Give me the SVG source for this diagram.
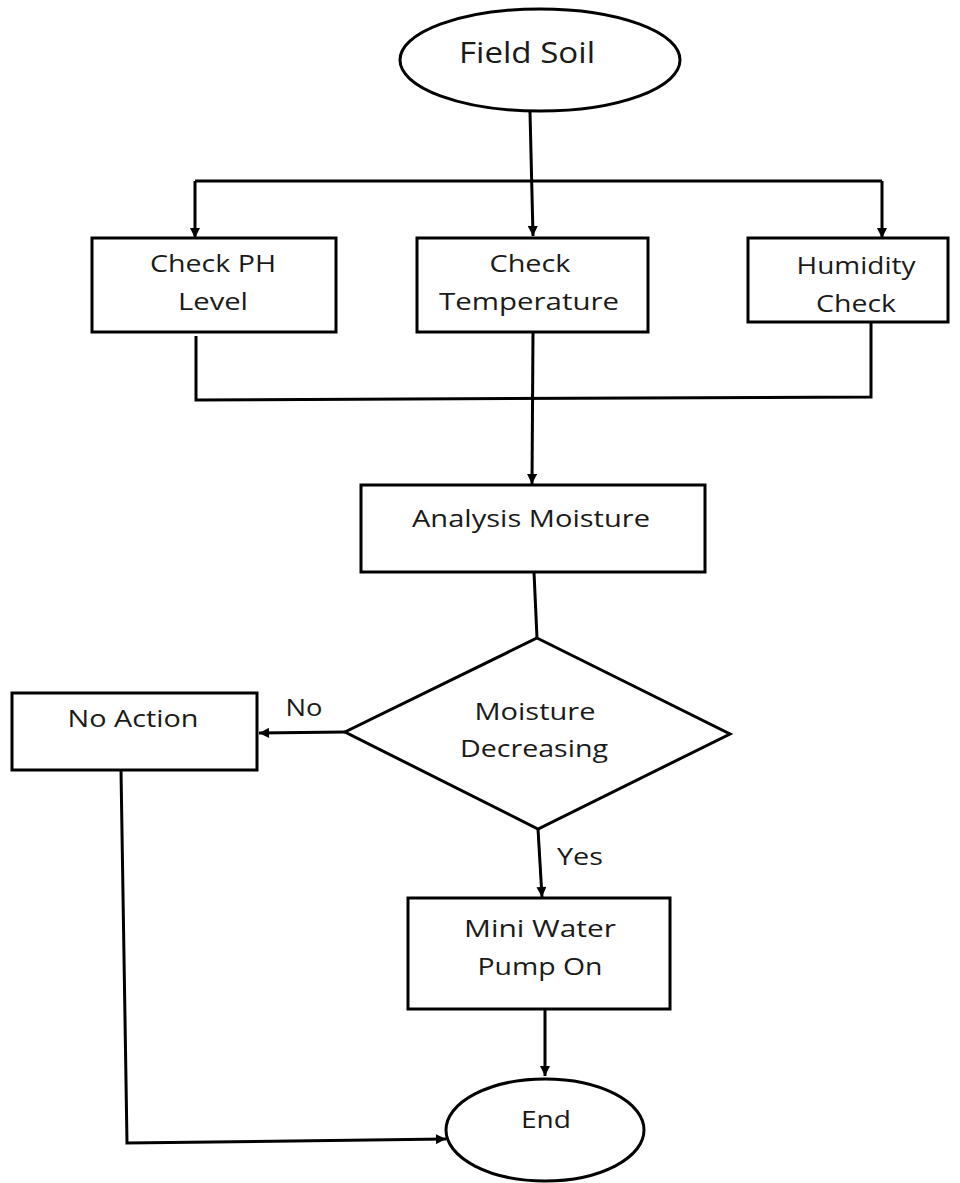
<svg xmlns="http://www.w3.org/2000/svg" width="960" height="1183" viewBox="0 0 960 1183">
<style>
.s{fill:#fff;stroke:#000;stroke-width:3}
.c{fill:none;stroke:#000;stroke-width:3}
.t{font-family:"Open Sans","Liberation Sans",sans-serif;font-size:23px;fill:#1a1a1a;text-anchor:middle}
.b{font-size:30px}
</style>
<defs>
<marker id="ah" viewBox="0 0 10 10" refX="10" refY="5" markerWidth="11" markerHeight="10" markerUnits="userSpaceOnUse" orient="auto">
<path d="M0,0 L10,5 L0,10 z" fill="#000"/>
</marker>
</defs>
<rect width="960" height="1183" fill="#fff"/>
<g id="connectors">
<path class="c" d="M530,112 L533,236" marker-end="url(#ah)"/>
<path class="c" d="M195,181 L882,181"/>
<path class="c" d="M195,181 L195,238" marker-end="url(#ah)"/>
<path class="c" d="M882,181 L882,238" marker-end="url(#ah)"/>
<path class="c" d="M196,336 L196,400 L871,397 L871,322"/>
<path class="c" d="M533,332 L532,484" marker-end="url(#ah)"/>
<path class="c" d="M534,572 L537,638"/>
<path class="c" d="M345,732 L259,733" marker-end="url(#ah)"/>
<path class="c" d="M538,829 L542,897" marker-end="url(#ah)"/>
<path class="c" d="M545,1009 L545,1076" marker-end="url(#ah)"/>
<path class="c" d="M121,770 L127,1143 L446,1139" marker-end="url(#ah)"/>
<text class="t" x="304" y="716" textLength="37" lengthAdjust="spacingAndGlyphs">No</text>
<text class="t" x="580" y="865" textLength="46" lengthAdjust="spacingAndGlyphs">Yes</text>
</g>
<g id="field-soil">
<ellipse class="s" cx="540" cy="60" rx="140" ry="51"/>
<text class="t b" x="527" y="63" textLength="136" lengthAdjust="spacingAndGlyphs">Field Soil</text>
</g>
<g id="check-ph">
<rect class="s" x="92" y="238" width="244" height="94"/>
<text class="t" x="213" y="272" textLength="126" lengthAdjust="spacingAndGlyphs">Check PH</text>
<text class="t" x="213" y="310" textLength="70" lengthAdjust="spacingAndGlyphs">Level</text>
</g>
<g id="check-temperature">
<rect class="s" x="417" y="238" width="231" height="94"/>
<text class="t" x="530" y="272" textLength="81" lengthAdjust="spacingAndGlyphs">Check</text>
<text class="t" x="529" y="310" textLength="180" lengthAdjust="spacingAndGlyphs">Temperature</text>
</g>
<g id="humidity-check">
<rect class="s" x="748" y="238" width="200" height="84"/>
<text class="t" x="856" y="274" textLength="119" lengthAdjust="spacingAndGlyphs">Humidity</text>
<text class="t" x="856" y="312" textLength="80" lengthAdjust="spacingAndGlyphs">Check</text>
</g>
<g id="analysis-moisture">
<rect class="s" x="361" y="485" width="344" height="87"/>
<text class="t" x="531" y="527" textLength="238" lengthAdjust="spacingAndGlyphs">Analysis Moisture</text>
</g>
<g id="moisture-decreasing">
<polygon class="s" points="537,638 730,734 538,829 345,732"/>
<text class="t" x="535" y="720" textLength="121" lengthAdjust="spacingAndGlyphs">Moisture</text>
<text class="t" x="534" y="757" textLength="148" lengthAdjust="spacingAndGlyphs">Decreasing</text>
</g>
<g id="no-action">
<rect class="s" x="12" y="693" width="245" height="77"/>
<text class="t" x="133" y="727" textLength="131" lengthAdjust="spacingAndGlyphs">No Action</text>
</g>
<g id="mini-water-pump">
<rect class="s" x="408" y="898" width="262" height="111"/>
<text class="t" x="540" y="937" textLength="152" lengthAdjust="spacingAndGlyphs">Mini Water</text>
<text class="t" x="540" y="975" textLength="125" lengthAdjust="spacingAndGlyphs">Pump On</text>
</g>
<g id="end">
<ellipse class="s" cx="545" cy="1130" rx="99" ry="51"/>
<text class="t" x="546" y="1128" textLength="50" lengthAdjust="spacingAndGlyphs">End</text>
</g>
</svg>
